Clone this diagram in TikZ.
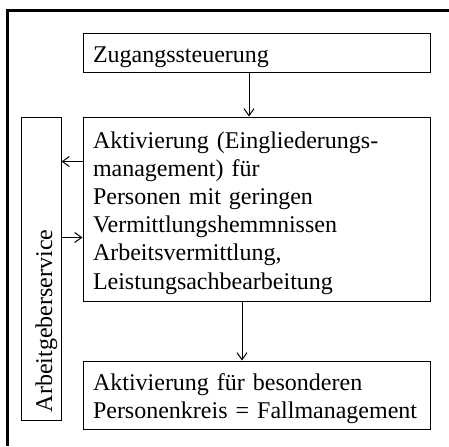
\documentclass[tikz,border=0pt]{standalone}
\usepackage{fontspec}
\setmainfont{Liberation Serif}
\usetikzlibrary{arrows.meta, positioning}

\begin{document}
\begin{tikzpicture}[
      x=1pt, y=1pt,
      font=\fontsize{12}{14.1}\selectfont,
      stage/.style={draw, line width=0.5pt, text width=163.5pt, inner xsep=5pt, inner ysep=0pt, align=left},
      side/.style={draw, line width=0.5pt, rotate=90, minimum width=151.5pt, minimum height=20pt, text width=143.5pt, inner xsep=4pt, inner ysep=0pt, text height=11pt, text depth=0pt, align=left},
      arr/.style={-{Straight Barb[length=3.5pt, width=5pt]}, line width=0.5pt},
      frame/.style={line width=1.5pt}
    ]
    \useasboundingbox (0,0) rectangle (224.5,223);
    \draw[frame] (3.5,0) |- (224.5,218);

    \node[stage, minimum height=19.5pt, text height=14.5pt, text depth=5pt] (zug) at (128.25,196.75) {Zugangssteuerung};
    \node[stage, minimum height=92pt, text height=15.5pt, text depth=76.5pt, below=22pt of zug] (akt) {Aktivierung (Eingliederungs-\\management) für\\Personen mit geringen\\Vermittlungshemmnissen\\Arbeitsvermittlung,\\Leistungsachbearbeitung};
    \node[stage, minimum height=34pt, text height=14.5pt, text depth=19.5pt, below=29.5pt of akt] (fall) {Aktivierung für besonderen\\Personenkreis = Fallmanagement};
    \node[side, anchor=south east] (ags) at ([xshift=-10.5pt]akt.north west) {Arbeitgeberservice};

    \draw[arr] ([xshift=-3.75pt]zug.south) -- ([xshift=-3.75pt]zug.south |- akt.north);
    \draw[arr] ([xshift=-7.25pt]akt.south) -- ([xshift=-7.25pt]akt.south |- fall.north);
    \draw[arr] ([yshift=-22.5pt]akt.north west) -- ([yshift=-22.5pt]akt.north west -| ags.south);
    \draw[arr] ([yshift=-60.5pt]akt.north west -| ags.south) -- ([yshift=-60.5pt]akt.north west);
  \end{tikzpicture}
\end{document}
